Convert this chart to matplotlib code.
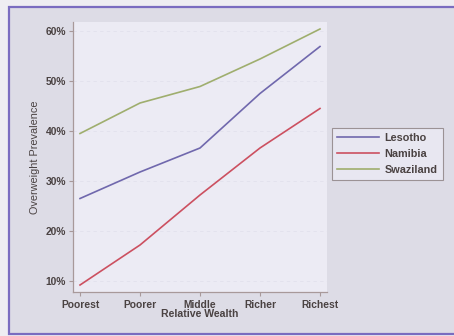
import matplotlib
matplotlib.use("Agg")
import matplotlib.pyplot as plt
from matplotlib.patches import Rectangle

categories = ["Poorest", "Poorer", "Middle", "Richer", "Richest"]
lesotho = [26.5, 31.8, 36.6, 47.5, 56.9]
namibia = [9.2, 17.2, 27.2, 36.6, 44.5]
swaziland = [39.5, 45.6, 48.9, 54.4, 60.4]
y_ticks = [10, 20, 30, 40, 50, 60]
y_tick_labels = ["10%", "20%", "30%", "40%", "50%", "60%"]

text_col = "#4a4242"
axis_col = "#a8999a"
font = "Liberation Sans"

fig = plt.figure(figsize=(4.54, 3.36), dpi=100)
fig.patch.set_facecolor("#eeedf2")

# outer framed panel, drawn on a background axes
bg = fig.add_axes([0, 0, 1, 1], zorder=-5)
bg.set_xlim(0, 454)
bg.set_ylim(336, 0)
bg.axis("off")
bg.add_patch(Rectangle((9, 7), 450, 327, facecolor="#dddce6",
                       edgecolor="#7a6cc0", linewidth=1.6))

ax = fig.add_axes([73 / 454, 1 - 292 / 336, 254 / 454, 270 / 336], zorder=1)
ax.set_facecolor("#ecebf4")

x = list(range(len(categories)))
ax.plot(x, lesotho, color="#7068ad", lw=1.2, label="Lesotho")
ax.plot(x, namibia, color="#cc5060", lw=1.2, label="Namibia")
ax.plot(x, swaziland, color="#9fae6e", lw=1.2, label="Swaziland")

ax.set_xlim(-0.117, 4.117)
ax.set_ylim(7.8, 61.8)
ax.set_xticks(x)
ax.set_xticklabels(categories)
ax.set_yticks(y_ticks)
ax.set_yticklabels(y_tick_labels)
ax.grid(axis="y", color="#e2e1ec", lw=0.6, ls=(0, (4, 4)))

for s in ["top", "right"]:
    ax.spines[s].set_visible(False)
for s in ["left", "bottom"]:
    ax.spines[s].set_color(axis_col)
    ax.spines[s].set_linewidth(0.9)

ax.tick_params(colors=axis_col, labelcolor=text_col, labelsize=7.4,
               length=3, width=0.8)
ax.tick_params(axis="x", pad=2.5)
ax.tick_params(axis="y", pad=2)
for lab in ax.get_xticklabels() + ax.get_yticklabels():
    lab.set_family(font)
    lab.set_fontweight("bold")

ax.set_xlabel("Relative Wealth", fontsize=7.6, color=text_col,
              family=font, fontweight="bold", labelpad=-0.5)
ax.set_ylabel("Overweight Prevalence", fontsize=7.8, color=text_col,
              family=font, labelpad=4)

leg = ax.legend(loc="center left", bbox_to_anchor=(332 / 454, 1 - 154 / 336),
                bbox_transform=fig.transFigure, frameon=True, fancybox=False,
                prop={"family": font, "size": 7.8, "weight": "bold"},
                handlelength=3.8, handletextpad=0.55, labelspacing=0.55,
                borderpad=0.5, borderaxespad=0)
leg.get_frame().set_edgecolor("#8a7f80")
leg.get_frame().set_facecolor("#ecebf4")
leg.get_frame().set_linewidth(0.8)
for t in leg.get_texts():
    t.set_color(text_col)

fig.savefig("out.png", dpi=100, facecolor=fig.get_facecolor())
